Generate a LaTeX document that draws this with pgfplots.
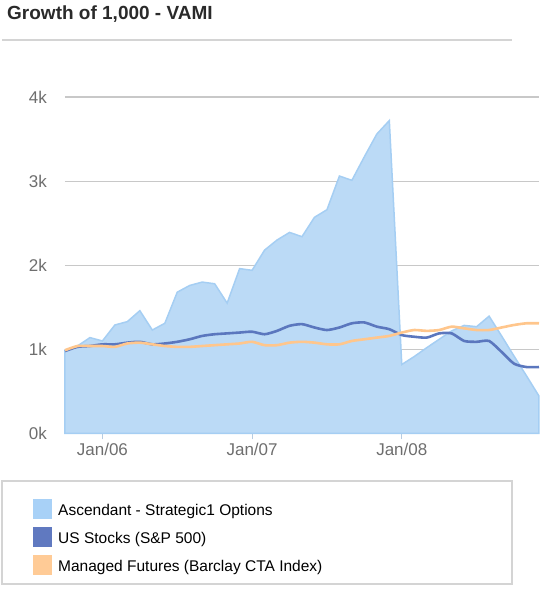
\documentclass[border=0pt]{standalone}
\usepackage{pgfplots}
\pgfplotsset{compat=1.18}
\usepackage{fontspec}
\setmainfont{Liberation Sans}
\definecolor{areafill}{HTML}{BBDAF6}
\definecolor{areadraw}{HTML}{A5CEF3}
\definecolor{spcol}{HTML}{5B77BE}
\definecolor{ctacol}{HTML}{FFC68C}
\definecolor{legblue}{HTML}{A8D1F7}
\definecolor{legdark}{HTML}{6079C0}
\definecolor{legorange}{HTML}{FFCB96}
\definecolor{gridcol}{HTML}{C8C8C8}
\definecolor{labcol}{HTML}{6E6E6E}
\definecolor{sepcol}{HTML}{D4D4D4}
\definecolor{titlecol}{HTML}{2A2A2A}
\definecolor{tickcol}{HTML}{B8CCE0}

\pgfplotstableread{
m v
0 990
1 1040
2 1140
3 1100
4 1290
5 1330
6 1460
7 1230
8 1310
9 1680
10 1760
11 1800
12 1780
13 1550
14 1960
15 1940
16 2180
17 2300
18 2390
19 2340
20 2570
21 2660
22 3060
23 3010
24 3290
25 3560
26 3720
27 820
28 915
29 1020
30 1120
31 1220
32 1285
33 1270
34 1395
35 1160
36 920
37 685
38 445
}\ascendant

\pgfplotstableread{
m v
0 980
1 1030
2 1040
3 1060
4 1060
5 1080
6 1090
7 1060
8 1070
9 1090
10 1120
11 1160
12 1180
13 1190
14 1200
15 1210
16 1180
17 1220
18 1280
19 1300
20 1260
21 1230
22 1260
23 1310
24 1320
25 1270
26 1240
27 1170
28 1150
29 1140
30 1190
31 1190
32 1100
33 1090
34 1100
35 970
36 830
37 790
38 790
}\spx

\pgfplotstableread{
m v
0 990
1 1040
2 1040
3 1040
4 1030
5 1070
6 1080
7 1060
8 1040
9 1030
10 1030
11 1040
12 1050
13 1060
14 1070
15 1090
16 1050
17 1050
18 1080
19 1090
20 1080
21 1060
22 1060
23 1100
24 1120
25 1140
26 1160
27 1200
28 1230
29 1220
30 1230
31 1270
32 1250
33 1230
34 1230
35 1260
36 1290
37 1310
38 1310
}\cta

\begin{document}
\begin{tikzpicture}[x=1pt,y=1pt]
\path[use as bounding box] (0,0) rectangle (554,606);
\node[anchor=base west, font=\fontsize{19}{22}\selectfont\bfseries, text=titlecol, inner sep=0pt] at (7,586.5) {Growth of 1,000 - VAMI};
\draw[sepcol, line width=1.2pt] (2,566) -- (512,566);

\begin{axis}[
  at={(65pt,172.5pt)}, anchor=south west,
  scale only axis, width=474pt, height=336.5pt,
  xmin=0, xmax=38, ymin=0, ymax=4000,
  axis x line*=bottom, axis y line*=left,
  x axis line style={draw=tickcol, line width=0.8pt},
  y axis line style={draw=none},
  ymajorgrids, grid style={gridcol, line width=1.1pt},
  ytick={0,1000,2000,3000,4000},
  yticklabels={0k,1k,2k,3k,4k},
  xtick={3,15,27},
  xticklabels={Jan/06,Jan/07,Jan/08},
  ytick style={draw=none},
  xtick style={draw=tickcol, line width=0.8pt},
  tick align=outside,
  major tick length=6pt,
  tick label style={font=\fontsize{17}{20}\selectfont, text=labcol},
  yticklabel style={inner sep=0pt, xshift=-12pt},
  xticklabel style={inner sep=0pt, yshift=-3pt},
  clip=false,
]
\addplot[fill=areafill, draw=areadraw, line width=1.5pt] table[x=m,y=v] {\ascendant} \closedcycle;
\addplot[spcol, line width=2.6pt, smooth, tension=0.4] table[x=m,y=v] {\spx};
\addplot[ctacol, line width=2.6pt, smooth, tension=0.4] table[x=m,y=v] {\cta};
\end{axis}

\draw[sepcol, line width=1.2pt] (2,22) rectangle (512,125);
\fill[legblue] (33,87) rectangle (52,107);
\fill[legdark] (33,59) rectangle (52,79);
\fill[legorange] (33,31) rectangle (52,51);
\begin{scope}[every node/.style={anchor=base west, inner sep=0pt, font=\fontsize{15.5}{18}\selectfont, text=black}]
\node at (58,90.3) {Ascendant - Strategic1 Options};
\node at (58,62.3) {US Stocks (S\&P 500)};
\node at (58,34.3) {Managed Futures (Barclay CTA Index)};
\end{scope}
\end{tikzpicture}
\end{document}
